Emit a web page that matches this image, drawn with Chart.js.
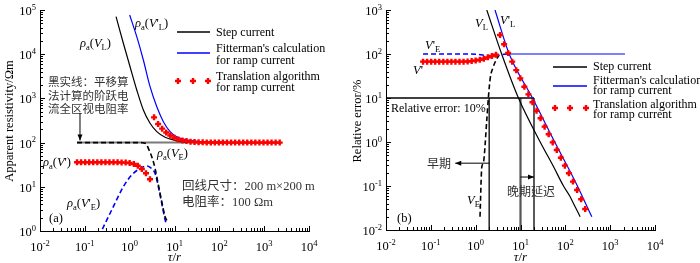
<!DOCTYPE html>
<html>
<head>
<meta charset="utf-8">
<script src="https://cdn.jsdelivr.net/npm/chart.js@4.4.1/dist/chart.umd.min.js"></script>
<style>
  body { margin: 0; background: #fff; }
  #wrap { display: flex; width: 700px; height: 263px; }
  canvas { display: block; }
</style>
</head>
<body>
<div id="wrap">
  <canvas id="chartA" width="350" height="263"></canvas>
  <canvas id="chartB" width="350" height="263"></canvas>
</div>
<script>
// τ/r sample points of the translation algorithm (red markers, both panels)
const tauT = [0.067, 0.0825, 0.102, 0.125, 0.154, 0.190, 0.234, 0.288, 0.354, 0.436,
  0.537, 0.661, 0.814, 1.00, 1.24, 1.52, 1.87, 2.31, 2.84,
  3.50, 4.31, 5.30, 6.53, 8.04, 9.90, 12.2, 15.0, 18.5, 22.8, 28.0, 34.5, 42.5, 52.3,
  64.5, 79.4, 97.7, 120, 148, 183, 225, 277, 341, 420, 517, 636, 783, 965, 1190,
  1460, 1800, 2220];

// (a) apparent resistivity, Ωm
const rhoTransEarly = [35.8, 35.8, 35.8, 35.8, 35.8, 35.8, 35.8, 35.8, 35.8, 35.8,
  35.7, 35.6, 35.3, 34.6, 32.8, 30.0, 25.3, 20.2, 14.8];
const rhoTransLate = [373, 264, 207, 169, 145, 129, 118, 112, 108, 105, 103.5, 102.2,
  101.5, 101, 100.7, 100.4, 100.3, 100.2, 100.1, 100.1, 100, 100, 100, 100, 100, 100,
  100, 100, 100, 100, 100, 100];

const tauStepL = [0.497, 0.723, 1.02, 1.44, 2.02, 2.85, 4.03, 6.17, 9.44, 13, 20, 40];
const rhoStepL = [70500, 17700, 5210, 1550, 547, 274, 177, 132, 115, 106, 102, 100.3];
const tauRampL = [1.0, 1.44, 2.02, 2.85, 4.03, 5.65, 7.98, 11.2, 18.8, 37, 60];
const rhoRampL = [77000, 24900, 7390, 1840, 646, 297, 177, 135, 115, 105, 100.5];
const tauStepE = [0.067, 1.0, 1.9, 2.2, 2.4, 2.61, 3.11, 3.69, 4.15, 4.77, 5.48, 6.17, 7.08];
const rhoStepE = [100, 100, 99.5, 97, 90, 74, 48, 26, 14.3, 7.1, 3.55, 2.1, 1.6];
const tauRampE = [0.246, 0.432, 0.72, 1.11, 1.71, 2.4, 2.85, 3.69, 4.37, 5.2, 6.17, 6.5];
const rhoRampE = [1.1, 3.55, 10, 18.5, 26, 29.5, 27.5, 20, 10, 4.2, 1.78, 1.5];
const tauFull = [0.067, 2220];
const rhoFull = [100, 100];

// (b) relative error, %
const errTransEarly = [67, 67, 67, 67, 67, 67, 67, 67, 67, 67, 67, 67.5, 69, 71, 74, 78, 84, 90, 96];
const errTransLate = [270, 166, 105, 67, 43, 28, 18, 12.1, 8.0, 5.1, 3.46, 2.23, 1.5, 0.98,
  0.66, 0.44, 0.29, 0.195, 0.126, 0.081, 0.05, 0.03];

const tauStepLR = [1.77, 3.8, 9.0, 27.5, 54, 91, 128, 152, 214];
const errStepLR = [1000, 100, 10, 1, 0.28, 0.1, 0.057, 0.04, 0.02];
const tauRampLR = [2.7, 5.6, 19, 58, 166, 390];
const errRampLR = [1000, 100, 9.5, 1, 0.126, 0.02];
const tauStepER = [1.25, 1.37, 1.48, 1.77, 1.92, 2.1, 2.45, 2.9, 3.25];
const errStepER = [0.02, 0.27, 0.33, 3.16, 10, 27, 50, 75, 90];
const tauRampER = [0.067, 0.5, 1.0, 1.5, 2.1, 2.7, 3.3, 4.3, 5.6];
const errRampER = [100, 100, 99, 94, 88, 88, 93, 99, 100];
const tauFlatR = [5.6, 2140];
const errFlatR = [100, 100];

const guideTau = [2, 10, 20];
const guideErr = 10;

const SERIF = '"Liberation Serif", "Times New Roman", "Noto Sans CJK SC", serif';

function pts(xs, ys) { return xs.map((x, i) => ({ x: x, y: ys[i] })); }

function lineSet(xs, ys, color, dashed, width, straight) {
  return {
    data: pts(xs, ys), borderColor: color, borderWidth: width || 1.3,
    borderDash: dashed ? [5, 3] : [], pointRadius: 0, fill: false,
    cubicInterpolationMode: straight ? 'default' : 'monotone', tension: 0
  };
}
function dotSet(xs, ys) {
  return {
    data: pts(xs, ys), showLine: false, pointStyle: 'cross', pointRadius: 3,
    pointBorderWidth: 2.4, borderColor: '#ff0000', backgroundColor: '#ff0000'
  };
}

function logScales(yMin, yMax) {
  return {
    x: { type: 'logarithmic', min: 0.01, max: 10000, ticks: { display: false },
         grid: { display: false }, border: { color: '#000', width: 1 },
         afterFit: s => { s.height = 0; } },
    y: { type: 'logarithmic', min: yMin, max: yMax, ticks: { display: false },
         grid: { display: false }, border: { color: '#000', width: 1 },
         afterFit: s => { s.width = 0; } }
  };
}

// text with italic / sub / superscript parts: [text, style] style uses i, s, p
function rich(ctx, x, y, parts, size, align) {
  const fonts = parts.map(p => {
    const small = p[1].includes('s') || p[1].includes('p');
    return (p[1].includes('i') ? 'italic ' : '') + (small ? size * 0.68 : size) + 'px ' + SERIF;
  });
  let w = 0;
  parts.forEach((p, i) => { ctx.font = fonts[i]; w += ctx.measureText(p[0]).width; });
  let cx = align === 'center' ? x - w / 2 : align === 'right' ? x - w : x;
  ctx.textAlign = 'left';
  ctx.textBaseline = 'alphabetic';
  parts.forEach((p, i) => {
    ctx.font = fonts[i];
    const dy = p[1].includes('s') ? size * 0.25 : p[1].includes('p') ? -size * 0.42 : 0;
    ctx.fillText(p[0], cx, y + dy);
    cx += ctx.measureText(p[0]).width;
  });
}

function arrow(ctx, x1, y1, x2, y2) {
  const ang = Math.atan2(y2 - y1, x2 - x1);
  ctx.beginPath();
  ctx.moveTo(x1, y1); ctx.lineTo(x2, y2); ctx.stroke();
  ctx.beginPath();
  ctx.moveTo(x2, y2);
  ctx.lineTo(x2 - 6 * Math.cos(ang) + 2.5 * Math.sin(ang), y2 - 6 * Math.sin(ang) - 2.5 * Math.cos(ang));
  ctx.lineTo(x2 - 6 * Math.cos(ang) - 2.5 * Math.sin(ang), y2 - 6 * Math.sin(ang) + 2.5 * Math.cos(ang));
  ctx.closePath(); ctx.fill();
}

function redMark(ctx, x, y) {
  ctx.save();
  ctx.strokeStyle = '#ff0000'; ctx.lineWidth = 2.4;
  ctx.beginPath();
  ctx.moveTo(x - 3, y); ctx.lineTo(x + 3, y);
  ctx.moveTo(x, y - 3); ctx.lineTo(x, y + 3);
  ctx.stroke();
  ctx.restore();
}

function drawAxes(chart) {
  const ctx = chart.ctx, xs = chart.scales.x, ys = chart.scales.y, a = chart.chartArea;
  ctx.save();
  ctx.strokeStyle = '#000'; ctx.fillStyle = '#000'; ctx.lineWidth = 1;
  ctx.beginPath();
  for (let e = -2; e <= 4; e++) {
    for (let m = 1; m <= 9; m++) {
      if (e === 4 && m > 1) break;
      const px = Math.round(xs.getPixelForValue(m * Math.pow(10, e))) + 0.5;
      ctx.moveTo(px, a.bottom); ctx.lineTo(px, a.bottom - (m === 1 ? 5 : 3));
    }
  }
  const e0 = Math.round(Math.log10(ys.min)), e1 = Math.round(Math.log10(ys.max));
  for (let e = e0; e <= e1; e++) {
    for (let m = 1; m <= 9; m++) {
      if (e === e1 && m > 1) break;
      const py = Math.round(ys.getPixelForValue(m * Math.pow(10, e))) + 0.5;
      ctx.moveTo(a.left, py); ctx.lineTo(a.left + (m === 1 ? 5 : 3), py);
    }
  }
  ctx.stroke();
  for (let e = -2; e <= 4; e++) {
    rich(ctx, xs.getPixelForValue(Math.pow(10, e)), a.bottom + 20, [['10', ''], [String(e), 'p']], 12.5, 'center');
  }
  for (let e = e0; e <= e1; e++) {
    rich(ctx, a.left - 4, ys.getPixelForValue(Math.pow(10, e)) + 5, [['10', ''], [String(e), 'p']], 12.5, 'right');
  }
  rich(ctx, (a.left + a.right) / 2, 261, [['τ', 'i'], ['/', ''], ['r', 'i']], 13, 'center');
  ctx.restore();
}

const panelA = {
  id: 'panelA',
  afterDraw(chart) {
    const ctx = chart.ctx, xs = chart.scales.x, ys = chart.scales.y;
    drawAxes(chart);
    ctx.save();
    ctx.fillStyle = '#000'; ctx.strokeStyle = '#000'; ctx.lineWidth = 1;
    ctx.translate(9, 121); ctx.rotate(-Math.PI / 2);
    rich(ctx, 0, 4, [['Apparent resistivity/Ωm', '']], 12.5, 'center');
    ctx.setTransform(1, 0, 0, 1, 0, 0);

    rich(ctx, 80, 47, [['ρ', 'i'], ['a', 's'], ['(', ''], ['V', 'i'], ['L', 's'], [')', '']], 12.5);
    rich(ctx, 135, 27, [['ρ', 'i'], ['a', 's'], ['(', ''], ['V', 'i'], ["'", ''], ['L', 's'], [')', '']], 12.5);
    rich(ctx, 157, 157, [['ρ', 'i'], ['a', 's'], ['(', ''], ['V', 'i'], ['E', 's'], [')', '']], 12.5);
    rich(ctx, 43, 166, [['ρ', 'i'], ['a', 's'], ['(', ''], ['V', 'i'], ["')", '']], 12.5);
    rich(ctx, 67, 207, [['ρ', 'i'], ['a', 's'], ['(', ''], ['V', 'i'], ["'", ''], ['E', 's'], [')', '']], 12.5);
    rich(ctx, 49, 222, [['(a)', '']], 12.5);

    ctx.fillStyle = '#333';
    rich(ctx, 48, 86, [['黑实线：平移算', '']], 11.5);
    rich(ctx, 48, 100, [['法计算的阶跃电', '']], 11.5);
    rich(ctx, 48, 113, [['流全区视电阻率', '']], 11.5);
    rich(ctx, 182, 190, [['回线尺寸：200 m×200 m', '']], 12.5);
    rich(ctx, 182, 206, [['电阻率：100 Ωm', '']], 12.5);
    ctx.fillStyle = '#000';
    const ax = xs.getPixelForValue(0.078);
    arrow(ctx, ax, ys.getPixelForValue(470), ax, ys.getPixelForValue(112));

    // legend
    ctx.lineWidth = 1.3;
    ctx.strokeStyle = '#000';
    ctx.beginPath(); ctx.moveTo(177, 32); ctx.lineTo(210, 32); ctx.stroke();
    ctx.strokeStyle = '#0000ff';
    ctx.beginPath(); ctx.moveTo(177, 53); ctx.lineTo(210, 53); ctx.stroke();
    [178, 193, 208].forEach(x => redMark(ctx, x, 81));
    rich(ctx, 216, 36, [['Step current', '']], 12);
    rich(ctx, 216, 52, [["Fitterman's calculation", '']], 12);
    rich(ctx, 216, 64, [['for ramp current', '']], 12);
    rich(ctx, 216, 80, [['Translation algorithm', '']], 12);
    rich(ctx, 216, 91, [['for ramp current', '']], 12);
    ctx.restore();
  }
};

const panelB = {
  id: 'panelB',
  afterDraw(chart) {
    const ctx = chart.ctx, xs = chart.scales.x, ys = chart.scales.y;
    drawAxes(chart);
    ctx.save();
    ctx.fillStyle = '#000'; ctx.strokeStyle = '#000'; ctx.lineWidth = 1;
    ctx.translate(7, 121); ctx.rotate(-Math.PI / 2);
    rich(ctx, 0, 4, [['Relative error/%', '']], 12.5, 'center');
    ctx.setTransform(1, 0, 0, 1, 0, 0);

    rich(ctx, 125, 27, [['V', 'i'], ['L', 's']], 12.5);
    rich(ctx, 150, 24, [['V', 'i'], ["'", ''], ['L', 's']], 12.5);
    rich(ctx, 75, 49, [['V', 'i'], ["'", ''], ['E', 's']], 12.5);
    rich(ctx, 63, 74, [['V', 'i'], ["'", '']], 12.5);
    rich(ctx, 117, 204, [['V', 'i'], ['E', 's']], 12.5);
    rich(ctx, 47, 222, [['(b)', '']], 12.5);
    rich(ctx, 41, 112, [['Relative error: 10%', '']], 12);

    ctx.fillStyle = '#333';
    rich(ctx, 101, 168, [['早期', '']], 12, 'right');
    rich(ctx, 157, 196, [['晚期延迟', '']], 12);
    ctx.fillStyle = '#000';
    const yEarly = ys.getPixelForValue(0.33);
    arrow(ctx, xs.getPixelForValue(2), yEarly, xs.getPixelForValue(0.35), yEarly);
    const yLate = ys.getPixelForValue(0.16);
    arrow(ctx, xs.getPixelForValue(10), yLate, xs.getPixelForValue(20), yLate);

    // legend
    ctx.lineWidth = 1.3;
    ctx.strokeStyle = '#000';
    ctx.beginPath(); ctx.moveTo(203, 67); ctx.lineTo(237, 67); ctx.stroke();
    ctx.strokeStyle = '#0000ff';
    ctx.beginPath(); ctx.moveTo(203, 86); ctx.lineTo(237, 86); ctx.stroke();
    [205, 220, 236].forEach(x => redMark(ctx, x, 108));
    rich(ctx, 243, 70, [['Step current', '']], 12);
    rich(ctx, 243, 84, [["Fitterman's calculation", '']], 12);
    rich(ctx, 243, 94, [['for ramp current', '']], 12);
    rich(ctx, 243, 108, [['Translation algorithm', '']], 12);
    rich(ctx, 243, 118, [['for ramp current', '']], 12);
    ctx.restore();
  }
};

const baseOptions = (yMin, yMax, pad) => ({
  responsive: false,
  animation: false,
  layout: { padding: pad },
  plugins: { legend: { display: false }, tooltip: { enabled: false } },
  scales: logScales(yMin, yMax)
});

new Chart(document.getElementById('chartA').getContext('2d'), {
  type: 'line',
  data: {
    datasets: [
      dotSet(tauT.slice(0, 19), rhoTransEarly),
      dotSet(tauT.slice(19), rhoTransLate),
      lineSet(tauStepE, rhoStepE, '#000', true, 1.6),
      lineSet(tauRampE, rhoRampE, '#0000ff', true, 1.6),
      lineSet(tauStepL, rhoStepL, '#000', false, 1.2),
      lineSet(tauRampL, rhoRampL, '#0000ff', false, 1.2),
      lineSet(tauFull, rhoFull, '#7a7a7a', false, 2, true)
    ]
  },
  options: baseOptions(1, 100000, { left: 40, top: 10, right: 41, bottom: 32 }),
  plugins: [panelA]
});

const guideSets = guideTau.map(t =>
  lineSet([t, t], [0.01, guideErr], t === 10 ? '#555' : '#000', false, t === 10 ? 2.2 : 1.3, true));

new Chart(document.getElementById('chartB').getContext('2d'), {
  type: 'line',
  data: {
    datasets: [
      dotSet(tauT.slice(0, 19), errTransEarly),
      dotSet(tauT.slice(19, 41), errTransLate),
      lineSet(tauStepER, errStepER, '#000', true, 1.6),
      lineSet(tauRampER, errRampER, '#0000ff', true, 1.6),
      lineSet(tauStepLR, errStepLR, '#000', false, 1.2),
      lineSet(tauRampLR, errRampLR, '#0000ff', false, 1.2),
      lineSet(tauFlatR, errFlatR, '#0000ff', false, 1.2, true),
      lineSet([0.01, 20], [guideErr, guideErr], '#000', false, 1.3, true)
    ].concat(guideSets)
  },
  options: baseOptions(0.01, 1000, { left: 36, top: 10, right: 45, bottom: 33 }),
  plugins: [panelB]
});
</script>
</body>
</html>
